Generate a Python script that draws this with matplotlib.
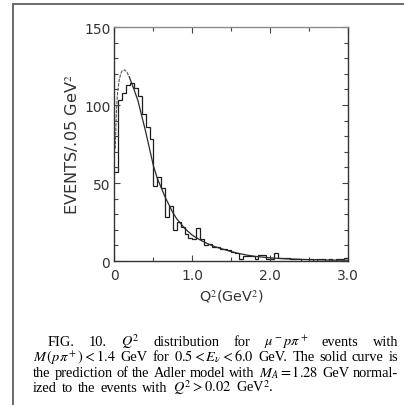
import matplotlib
matplotlib.use("Agg")
import matplotlib.pyplot as plt
from matplotlib.lines import Line2D
import numpy as np

plt.rcParams["mathtext.fontset"] = "stix"

# Q^2 histogram: bin edges every 0.05 GeV^2 from 0 to 3.0
bin_width = 0.05
events = [57, 103, 108, 113, 114, 111, 106, 94, 86, 78,
          48, 54, 47, 28, 35, 20, 25, 22, 17, 15,
          14, 21, 14, 10, 11, 9, 9, 8, 8, 7,
          6, 5, 1, 3, 3, 3, 1, 4, 4, 1,
          1, 5, 2, 2, 2, 1, 1, 1, 0, 0,
          1, 0, 1, 1, 0, 1, 0, 1, 1, 2]

# Adler model prediction (M_A = 1.28 GeV)
curve_q2 = [0.01, 0.02, 0.03, 0.04, 0.06, 0.08, 0.10, 0.13, 0.16, 0.19,
            0.22, 0.25, 0.30, 0.35, 0.40, 0.45, 0.50, 0.55, 0.60, 0.65,
            0.70, 0.75, 0.80, 0.90, 1.00, 1.10, 1.20, 1.30, 1.40, 1.50,
            1.60, 1.70, 1.80, 2.00, 2.20, 2.50, 2.80, 3.00]
curve_val = [72, 90, 101, 108, 116, 120, 122, 122.5, 121, 118,
             114, 110, 103, 93, 83, 72, 61, 53, 47, 41,
             36, 31, 27, 21, 16.5, 13.5, 11, 9, 7.5, 6,
             4.8, 3.8, 3.0, 2.0, 1.4, 0.9, 0.6, 0.5]

x_ticks = [0, 1.0, 2.0, 3.0]
x_tick_labels = ["0", "1.0", "2.0", "3.0"]
y_ticks = [0, 50, 100, 150]
y_tick_labels = ["0", "50", "100", "150"]

W, H = 404, 406
fig = plt.figure(figsize=(W / 100, H / 100), dpi=100)
fig.patch.set_facecolor("white")

# page frame lines
fig.add_artist(Line2D([12.5 / W, 1.0], [1 - 4.5 / H, 1 - 4.5 / H],
                      color="#6a6a6a", lw=1.4, transform=fig.transFigure))
fig.add_artist(Line2D([12.5 / W, 12.5 / W], [0, 1 - 4.5 / H],
                      color="#6a6a6a", lw=1.4, transform=fig.transFigure))

left, right, top, bottom = 114.5, 348, 28, 262
ax = fig.add_axes([left / W, 1 - bottom / H, (right - left) / W, (bottom - top) / H])

edges = np.arange(len(events) + 1) * bin_width
ax.stairs(events, edges, color="#1e1e1e", lw=0.9, baseline=None)

q2 = np.array(curve_q2)
val = np.array(curve_val)
low = q2 <= 0.19
ax.plot(q2[low], val[low], color="#555555", lw=0.8, ls=(0, (3, 1)))
ax.plot(q2[q2 >= 0.19], val[q2 >= 0.19], color="#2a2a2a", lw=0.9)

ax.set_xlim(0, 3.0)
ax.set_ylim(0, 150)

for s in ["left", "bottom", "right"]:
    ax.spines[s].set_color("#333333")
    ax.spines[s].set_linewidth(1.0)
ax.spines["top"].set_color("#8a8a8a")
ax.spines["top"].set_linewidth(1.0)

ax.set_xticks(x_ticks)
ax.set_xticklabels(x_tick_labels)
ax.set_yticks(y_ticks)
ax.set_yticklabels(y_tick_labels)
ax.set_xticks(np.arange(0, 3.01, 0.5), minor=True)
ax.set_yticks(np.arange(0, 151, 10), minor=True)
ax.tick_params(which="both", direction="in", top=True, right=True,
               color="#444444", width=0.8)
ax.tick_params(which="major", length=4, labelsize=10, labelcolor="#333333", pad=3)
ax.tick_params(which="minor", length=3)
ax.tick_params(axis="x", which="major", pad=5)

ax.set_ylabel("EVENTS/.05 GeV$^2$", fontsize=11.6, color="#333333", labelpad=2)
ax.set_xlabel("Q$^2$(GeV$^2$)", fontsize=10.4, color="#333333", labelpad=4)

# caption
cap_font = dict(family="Liberation Serif", fontsize=10.4, color="#000000")
lines = [
    (["FIG.", "10.", r"$Q^2$", "distribution", "for", r"$\mu^-p\pi^+$", "events", "with"], 48, True),
    ([r"$M\,(p\pi^+) < 1.4$", "GeV", "for", r"$0.5 < E_\nu < 6.0$", "GeV.", "The",
      "solid", "curve", "is"], 33, True),
    (["the", "prediction", "of", "the", "Adler", "model", "with", r"$M_A = 1.28$",
      "GeV", "normal-"], 33, True),
    (["ized", "to", "the", "events", "with", r"$Q^2 > 0.02$", r"GeV$^2$."], 33, False),
]
baselines = [346, 361.5, 377, 392.5]
x_right = 398
fig.canvas.draw()
renderer = fig.canvas.get_renderer()
for (words, x0, justify), yb in zip(lines, baselines):
    texts = [fig.text(0, 1 - yb / H, w, ha="left", va="baseline", **cap_font) for w in words]
    widths = [t.get_window_extent(renderer).width for t in texts]
    if justify:
        gap = (x_right - x0 - sum(widths)) / (len(words) - 1)
    else:
        gap = 5.0
    x = x0
    for t, w in zip(texts, widths):
        t.set_x(x / W)
        x += w + gap

fig.savefig("out.png", dpi=100, facecolor="white")
